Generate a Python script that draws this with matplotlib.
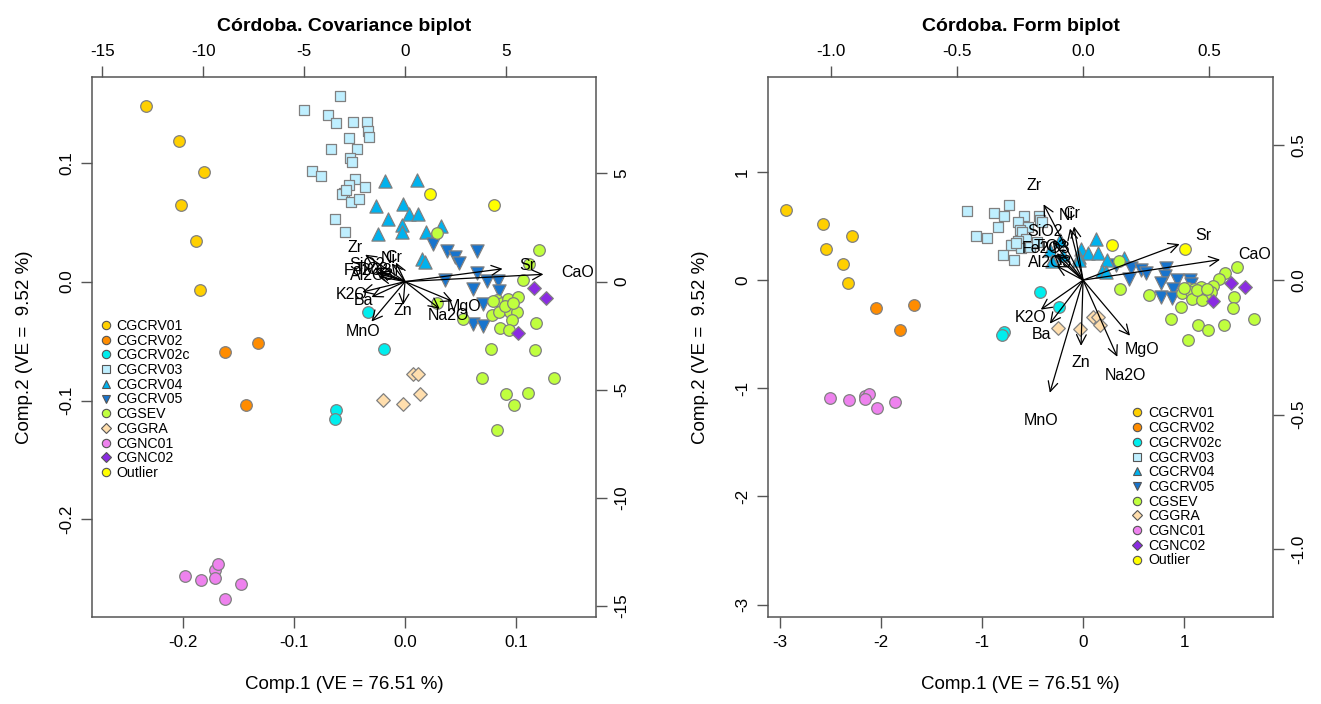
import numpy as np
import matplotlib.pyplot as plt
from matplotlib.lines import Line2D

plt.rcParams['font.family'] = ['Liberation Sans', 'DejaVu Sans']

# ============================================
# DATA (scores)
# ============================================

groups = ["CGCRV01", "CGCRV02", "CGCRV02c", "CGCRV03", "CGCRV04", "CGCRV05",
          "CGSEV", "CGGRA", "CGNC01", "CGNC02", "Outlier"]
fills = ["#FFD000", "#FF8C00", "#00EEEE", "#BFEFFF", "#00B2EE", "#1874CD",
         "#C0FF3E", "#FFDEAD", "#EE82EE", "#8A2BE2", "#FFFF00"]
marks = ["o", "o", "o", "s", "^", "v", "o", "D", "o", "D", "o"]

cgcrv01_x = [-0.233, -0.204, -0.1815, -0.202, -0.188, -0.1848]
cgcrv01_y = [0.1477, 0.118, 0.0918, 0.0644, 0.0339, -0.0070]

cgcrv02_x = [-0.1626, -0.1323, -0.1435]
cgcrv02_y = [-0.0591, -0.0517, -0.1034]

cgcrv02c_x = [-0.0337, -0.0189, -0.062, -0.0635]
cgcrv02c_y = [-0.0254, -0.0568, -0.1079, -0.1157]

cgcrv03_x = [-0.0584, -0.0907, -0.0695, -0.062, -0.0467, -0.0344, -0.0335, -0.0321,
             -0.0509, -0.0665, -0.0431, -0.0494, -0.0479, -0.0838, -0.0757, -0.0449,
             -0.0509, -0.0554, -0.0569, -0.0488, -0.0413, -0.0359, -0.0629, -0.0539,
             -0.053]
cgcrv03_y = [0.1562, 0.1443, 0.1398, 0.1336, 0.1345, 0.1342, 0.1265, 0.1218,
             0.1209, 0.1116, 0.1116, 0.104, 0.1003, 0.0926, 0.089, 0.0862,
             0.0814, 0.0743, 0.0737, 0.0667, 0.0695, 0.0791, 0.0523, 0.0418,
             0.077]

cgcrv04_x = [-0.018, 0.0105, -0.0263, -0.0015, -0.0155, 0.0039, 0.0114, -0.003,
             -0.0245, -0.003, 0.0186, 0.0323, 0.015, 0.018]
cgcrv04_y = [0.0847, 0.0856, 0.0636, 0.0653, 0.0523, 0.0565, 0.0565, 0.0475,
             0.0404, 0.0418, 0.0418, 0.0469, 0.0192, 0.0164]

cgcrv05_x = [0.0256, 0.0377, 0.0454, 0.049, 0.0647, 0.0644, 0.0359, 0.0741,
             0.0838, 0.0614, 0.0845, 0.0703, 0.0614, 0.0698]
cgcrv05_y = [0.0319, 0.0254, 0.0209, 0.0153, 0.026, 0.0076, 0.0014, 0.0008,
             0.0008, -0.0059, -0.0076, -0.0189, -0.0358, -0.0373]

cgsev_x = [0.0285, 0.1207, 0.1117, 0.1063, 0.029, 0.0518, 0.0824, 0.0869, 0.0928,
           0.1018, 0.0779, 0.0847, 0.0943, 0.1004, 0.0959, 0.0854, 0.0937, 0.1183,
           0.077, 0.1174, 0.0689, 0.0905, 0.1108, 0.0982, 0.1339, 0.0824,
           0.079, 0.0898, 0.097]
cgsev_y = [0.0409, 0.0269, 0.0144, 0.0014, -0.0184, -0.0316, -0.0155, -0.0184, -0.0147,
           -0.0127, -0.028, -0.0252, -0.0252, -0.0252, -0.0325, -0.0392, -0.0409, -0.0345,
           -0.057, -0.0579, -0.0811, -0.0947, -0.0938, -0.1036, -0.0811, -0.1248,
           -0.016, -0.0203, -0.0178]

cggra_x = [0.0075, 0.012, -0.0195, -0.0021, 0.0135]
cggra_y = [-0.0774, -0.0774, -0.0994, -0.1031, -0.0949]

cgnc01_x = [-0.1983, -0.1839, -0.1713, -0.1683, -0.171, -0.1474, -0.162]
cgnc01_y = [-0.2475, -0.2511, -0.2426, -0.2375, -0.2494, -0.254, -0.2667]

cgnc02_x = [0.1162, 0.1267, 0.1018]
cgnc02_y = [-0.0053, -0.0138, -0.043]

outlier_x = [0.0228, 0.0802]
outlier_y = [0.0735, 0.0642]

score_x = [cgcrv01_x, cgcrv02_x, cgcrv02c_x, cgcrv03_x, cgcrv04_x, cgcrv05_x,
           cgsev_x, cggra_x, cgnc01_x, cgnc02_x, outlier_x]
score_y = [cgcrv01_y, cgcrv02_y, cgcrv02c_y, cgcrv03_y, cgcrv04_y, cgcrv05_y,
           cgsev_y, cggra_y, cgnc01_y, cgnc02_y, outlier_y]

# variable loadings (form biplot units)
variables = ["SiO2", "TiO2", "Al2O3", "Fe2O3", "MnO", "MgO", "CaO", "Na2O",
             "K2O", "Ba", "Cr", "Ni", "Sr", "Zn", "Zr"]
load_x = [-0.151, -0.13, -0.131, -0.145, -0.165, 0.233, 0.68, 0.17,
          -0.21, -0.165, -0.045, -0.065, 0.479, -0.01, -0.196]
load_y = [0.18, 0.125, 0.066, 0.118, -0.523, -0.258, 0.095, -0.356,
          -0.137, -0.202, 0.249, 0.239, 0.167, -0.305, 0.352]

# singular value scaling between covariance and form biplots
d1, d2 = 12.6, 4.42

xlab = "Comp.1 (VE = 76.51 %)"
ylab = "Comp.2 (VE =  9.52 %)"

# ============================================
# FIGURE
# ============================================

W, H = 1321, 704
fig = plt.figure(figsize=(W / 100, H / 100), dpi=100)
frame_col = "#555555"
FS = 12.3


def box(x0, x1):
    return [x0 / W, (H - 617) / H, (x1 - x0) / W, 540 / H]


def style(ax):
    for s in ax.spines.values():
        s.set_color(frame_col)
        s.set_linewidth(1.1)
    ax.tick_params(colors=frame_col, labelcolor="black", labelsize=FS,
                   length=8, width=1.0, pad=5)


def draw_panel(pos, sx, sy, ax_sx, ax_sy, lim, lim2, ticks, ticks2, fmt, fmt2,
               title, leg_anchor):
    ax = fig.add_axes(pos)
    for g, c, m, xs, ys in zip(groups, fills, marks, score_x, score_y):
        size = {"o": 70, "s": 60, "^": 90, "v": 90, "D": 48}[m]
        ax.scatter(np.array(xs) * sx, np.array(ys) * sy, s=size, marker=m,
                   facecolor=c, edgecolor="#808080", linewidth=0.9, zorder=3)
    ax.set_xlim(lim)
    ax.set_ylim(lim)
    ax.set_xticks(ticks)
    ax.set_yticks(ticks)
    ax.set_xticklabels([fmt(t) for t in ticks])
    ax.set_yticklabels([fmt(t) for t in ticks], rotation=90, va="center")
    ax.set_xlabel(xlab, fontsize=13.5, labelpad=19)
    ax.set_ylabel(ylab, fontsize=13.5, labelpad=19)
    style(ax)

    handles = [Line2D([], [], linestyle="none", marker=m, markersize=6 if m != "D" else 5,
                      markerfacecolor=c, markeredgecolor="#555555", markeredgewidth=0.8)
               for c, m in zip(fills, marks)]
    ax.legend(handles, groups, loc="upper left", bbox_to_anchor=leg_anchor,
              frameon=False, fontsize=10.2, handlelength=0.8, handletextpad=0.35,
              labelspacing=0.05, borderpad=0, borderaxespad=0)

    # secondary axes for the variable arrows
    ax2 = fig.add_axes(pos, frameon=False)
    ax2.patch.set_visible(False)
    ax2.set_xlim(lim2)
    ax2.set_ylim(lim2)
    ax2.xaxis.tick_top()
    ax2.yaxis.tick_right()
    ax2.set_xticks(ticks2)
    ax2.set_yticks(ticks2)
    ax2.set_xticklabels([fmt2(t) for t in ticks2])
    ax2.set_yticklabels([fmt2(t) for t in ticks2], rotation=90, va="center")
    ax2.tick_params(colors=frame_col, labelcolor="black", labelsize=FS,
                    length=8, width=1.0, pad=5)
    for v, lx, ly in zip(variables, load_x, load_y):
        vx, vy = lx * ax_sx, ly * ax_sy
        ax2.annotate("", xy=(0.8 * vx, 0.8 * vy), xytext=(0, 0),
                     arrowprops=dict(arrowstyle="->,head_length=0.7,head_width=0.35",
                                     color="black", lw=0.9, shrinkA=0, shrinkB=0,
                                     mutation_scale=10))
        ax2.text(vx, vy, v, ha="center", va="center", fontsize=11.5)
    ax2.set_title(title, fontsize=14, fontweight="bold", pad=9)
    return ax, ax2


f1 = lambda t: f"{t:.1f}"
fi = lambda t: f"{t:.0f}"

# Covariance biplot: points as scores, arrows scaled by singular values
draw_panel(box(92, 596), 1, 1, d1, d2,
           (-0.282, 0.172), (-0.282 * 55, 0.172 * 55),
           [-0.2, -0.1, 0.0, 0.1], [-15, -10, -5, 0, 5], f1, fi,
           "Córdoba. Covariance biplot", (0.016, 0.552))

# Form biplot: points scaled by singular values, arrows as loadings
draw_panel(box(768, 1273), d1, d2, 1, 1,
           (-3.115, 1.878), (-3.115 / 2.49, 1.878 / 2.49),
           [-3, -2, -1, 0, 1], [-1.0, -0.5, 0.0, 0.5], fi, f1,
           "Córdoba. Form biplot", (0.72, 0.39))

fig.savefig("out.png", dpi=100)
